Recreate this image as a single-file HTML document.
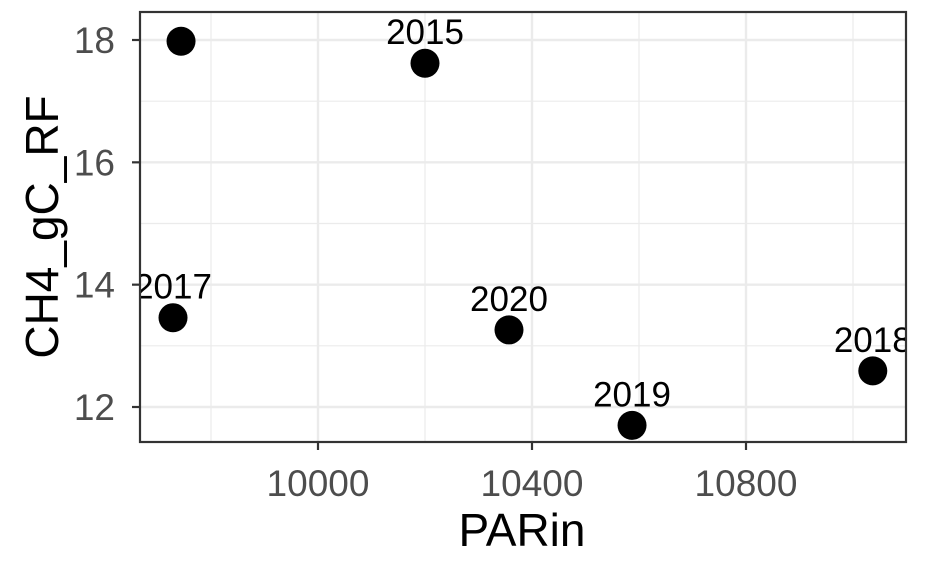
<!DOCTYPE html>
<html><head><meta charset="utf-8"><style>
body{margin:0;background:#fff}
svg{display:block;font-family:"Liberation Sans",Arial,sans-serif}
</style></head><body>
<svg id="chart" width="929" height="577">
<defs><clipPath id="pc"><rect x="140" y="12" width="766" height="430"/></clipPath></defs>
<rect x="140" y="12" width="766" height="430" fill="#fff"/>
<g id="grid"></g>
<g id="pts" clip-path="url(#pc)"></g>
<rect x="140" y="12" width="766" height="430" fill="none" stroke="#333" stroke-width="2.2"/>
<g id="axes"></g>
<text x="522" y="546" text-anchor="middle" font-size="46" fill="#000">PARin</text>
<text transform="translate(58,227) rotate(-90)" text-anchor="middle" font-size="46" fill="#000">CH4_gC_RF</text>
</svg>
<script>
const years=["2016","2015","2017","2020","2019","2018"];
const parIn=[9744,10200,9729,10357,10587,11037];
const ch4=[17.98,17.62,13.46,13.26,11.70,12.59];
const showLabel=[false,true,true,true,true,true];
const xTicks=[10000,10400,10800];
const yTicks=[12,14,16,18];
const xMinor=[9800,10200,10600,11000];
const yMinor=[13,15,17];
const NS="http://www.w3.org/2000/svg";
const X=v=>318+(v-10000)*(214/400);
const Y=v=>407-(v-12)*61.1667;
function mk(tag,attrs,parent){const e=document.createElementNS(NS,tag);for(const k in attrs)e.setAttribute(k,attrs[k]);parent.appendChild(e);return e;}
const grid=document.getElementById('grid'),axes=document.getElementById('axes'),pts=document.getElementById('pts');
xMinor.forEach(v=>{const l=mk('line',{x1:X(v),x2:X(v),y1:12,y2:442,stroke:'#ebebeb','stroke-width':1.2},grid);

});
yMinor.forEach(v=>{const l=mk('line',{x1:140,x2:906,y1:Y(v),y2:Y(v),stroke:'#ebebeb','stroke-width':1.2},grid);

});
xTicks.forEach(v=>{const l=mk('line',{x1:X(v),x2:X(v),y1:12,y2:442,stroke:'#ebebeb','stroke-width':2.4},grid);


const t=mk('line',{x1:X(v),x2:X(v),y1:442,y2:450,stroke:'#333','stroke-width':2.2},axes);


const tx=mk('text',{x:X(v),y:496,'text-anchor':'middle','font-size':37,fill:'#4d4d4d'},axes);tx.textContent=v;

});
yTicks.forEach(v=>{const l=mk('line',{x1:140,x2:906,y1:Y(v),y2:Y(v),stroke:'#ebebeb','stroke-width':2.4},grid);


const t=mk('line',{x1:132,x2:140,y1:Y(v),y2:Y(v),stroke:'#333','stroke-width':2.2},axes);


const tx=mk('text',{x:115,y:Y(v)+13,'text-anchor':'end','font-size':37,fill:'#4d4d4d'},axes);tx.textContent=v;

});
years.forEach((yr,i)=>{const c=mk('circle',{cx:X(parIn[i]),cy:Y(ch4[i]),r:14.5,fill:'#000'},pts);


if(showLabel[i]){const t=mk('text',{x:X(parIn[i]),y:Y(ch4[i])-19,'text-anchor':'middle','font-size':35,fill:'#000'},pts);t.textContent=yr;

}});
</script>
</body></html>
